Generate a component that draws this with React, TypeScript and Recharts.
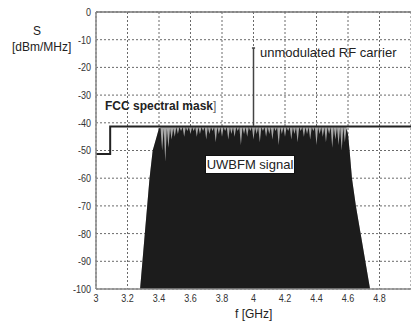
import React from 'react';
import { ComposedChart, Area, Line, XAxis, YAxis, CartesianGrid, ReferenceLine } from 'recharts';

const xTicks = [3, 3.2, 3.4, 3.6, 3.8, 4, 4.2, 4.4, 4.6, 4.8];
const yTicks = [-100, -90, -80, -70, -60, -50, -40, -30, -20, -10, 0];

const maskFreq = [3, 3.09, 5];
const maskLevel = [-51.3, -41.3, -41.3];

const carrierFreq = [4, 4];
const carrierLevel = [-41, -13];
const carrierCapFreq = [3.99, 4.01];
const carrierCapLevel = [-13, -13];

const rampUpFreq = [3.28, 3.295, 3.31, 3.325, 3.34, 3.36, 3.385, 3.4];
const rampUpLevel = [-100, -90, -80, -70, -60, -50, -45, -42];

const envelopeTopFreq = [3.41, 4.59];
const envelopeTopLevel = [-41.5, -41.5];

const noiseFreqStart = 3.41;
const noiseFreqStep = 0.01;
const noiseLevel = [
  -42, -50, -42, -54, -42, -49, -42, -46, -42, -45,
  -41.5, -44, -41.5, -43, -41.5, -45, -41.5, -43, -41.5, -44,
  -41.5, -43, -41.5, -45, -41.5, -44, -41.5, -43, -41.5, -46,
  -41.5, -44, -41.5, -43, -41.5, -47, -41.5, -44, -41.5, -45,
  -41.5, -43, -41.5, -46, -41.5, -44, -41.5, -45, -41.5, -43,
  -41.5, -48, -41.5, -44, -41.5, -45, -41.5, -43, -41.5, -46,
  -41.5, -44, -41.5, -47, -41.5, -43, -41.5, -45, -41.5, -44,
  -41.5, -46, -41.5, -43, -41.5, -48, -41.5, -44, -41.5, -45,
  -41.5, -43, -41.5, -46, -41.5, -44, -41.5, -47, -41.5, -43,
  -41.5, -45, -41.5, -44, -41.5, -46, -41.5, -43, -41.5, -48,
  -41.5, -44, -41.5, -45, -41.5, -47, -41.5, -44, -41.5, -49,
  -41.5, -46, -41.5, -48, -41.5, -50, -41.5, -47, -42,
];

const rampDownFreq = [4.6, 4.61, 4.625, 4.65, 4.68, 4.71, 4.74];
const rampDownLevel = [-44, -50, -60, -70, -80, -90, -100];

const upPts = rampUpFreq.map((f, i) => ({ x: f, s: rampUpLevel[i] }));
const downPts = rampDownFreq.map((f, i) => ({ x: f, s: rampDownLevel[i] }));
const envelopeData = [
  ...upPts,
  ...envelopeTopFreq.map((f, i) => ({ x: f, s: envelopeTopLevel[i] })),
  ...downPts,
];
const signalData = [
  ...upPts,
  ...noiseLevel.map((v, i) => ({ x: +(noiseFreqStart + i * noiseFreqStep).toFixed(3), s: v })),
  ...downPts,
];
const maskData = maskFreq.map((f, i) => ({ x: f, m: maskLevel[i] }));
const carrierData = carrierFreq.map((f, i) => ({ x: f, c: carrierLevel[i] }));
const capData = carrierCapFreq.map((f, i) => ({ x: f, k: carrierCapLevel[i] }));

const font = "'Liberation Sans', Arial, sans-serif";

const XTick = (props: any) => {
  const { x, y, payload } = props;
  return (
    <text transform={`translate(${x},${y}) scale(0.82,1)`} textAnchor="middle" dy="0.71em" fontSize={11} fill="#333" fontFamily={font}>
      {String(payload.value)}
    </text>
  );
};
const YTick = (props: any) => {
  const { x, y, payload } = props;
  return (
    <text transform={`translate(${x},${y}) scale(0.82,1)`} textAnchor="end" dy="0.355em" fontSize={11} fill="#333" fontFamily={font}>
      {String(payload.value)}
    </text>
  );
};

export default function App() {
  return (
    <div style={{ position: 'relative', width: 411, height: 324, background: '#fff', fontFamily: font, color: '#222' }}>
      <style>{`body{margin:0;}`}</style>
      <ComposedChart width={411} height={324} margin={{ top: 12, right: 0, bottom: 5, left: 0 }}>
        <CartesianGrid stroke="#444" strokeDasharray="2 2" strokeWidth={0.8} />
        <XAxis
          type="number"
          dataKey="x"
          domain={[3, 5]}
          ticks={xTicks}
          allowDataOverflow
          height={30}
          tickLine={false}
          tickSize={3}
          tickMargin={2}
          axisLine={{ stroke: '#888', strokeWidth: 1.5 }}
          tick={<XTick />}
        />
        <YAxis
          type="number"
          domain={[-100, 0]}
          ticks={yTicks}
          allowDataOverflow
          width={96}
          tickLine={false}
          tickSize={3}
          tickMargin={2}
          axisLine={{ stroke: '#888', strokeWidth: 1.5 }}
          tick={<YTick />}
        />
        <ReferenceLine y={0} stroke="#777" strokeWidth={1.5} />
        <Area
          data={envelopeData}
          dataKey="s"
          type="linear"
          baseValue={-100}
          fill="#a8a8a8"
          fillOpacity={1}
          stroke="none"
          isAnimationActive={false}
        />
        <Area
          data={signalData}
          dataKey="s"
          type="linear"
          baseValue={-100}
          fill="#1c1c1c"
          fillOpacity={1}
          stroke="none"
          isAnimationActive={false}
        />
        <Line data={maskData} dataKey="m" type="stepAfter" stroke="#222" strokeWidth={2} dot={false} isAnimationActive={false} />
        <Line data={carrierData} dataKey="c" type="linear" stroke="#444" strokeWidth={1.5} dot={false} isAnimationActive={false} />
        <Line data={capData} dataKey="k" type="linear" stroke="#444" strokeWidth={1.5} dot={false} isAnimationActive={false} />
      </ComposedChart>
      <div style={{ position: 'absolute', left: 30, top: 24, fontSize: 12, width: 14, textAlign: 'center', lineHeight: '14px' }}>S</div>
      <div style={{ position: 'absolute', left: 12, top: 40, fontSize: 12, lineHeight: '14px' }}>[dBm/MHz]</div>
      <div style={{ position: 'absolute', left: 235, top: 307, fontSize: 12, lineHeight: '14px' }}>f [GHz]</div>
      <div style={{ position: 'absolute', left: 260, top: 45, fontSize: 13, lineHeight: '15px' }}>unmodulated RF carrier</div>
      <div style={{ position: 'absolute', left: 105, top: 99, fontSize: 12, lineHeight: '15px', fontWeight: 'bold' }}>
        FCC spectral mask<span style={{ fontWeight: 'normal', color: '#666' }}>]</span>
      </div>
      <div style={{ position: 'absolute', left: 205, top: 155, width: 88, height: 17, border: '1px solid #111', background: '#fff', fontSize: 13, lineHeight: '17px', textAlign: 'center' }}>UWBFM signal</div>
    </div>
  );
}
